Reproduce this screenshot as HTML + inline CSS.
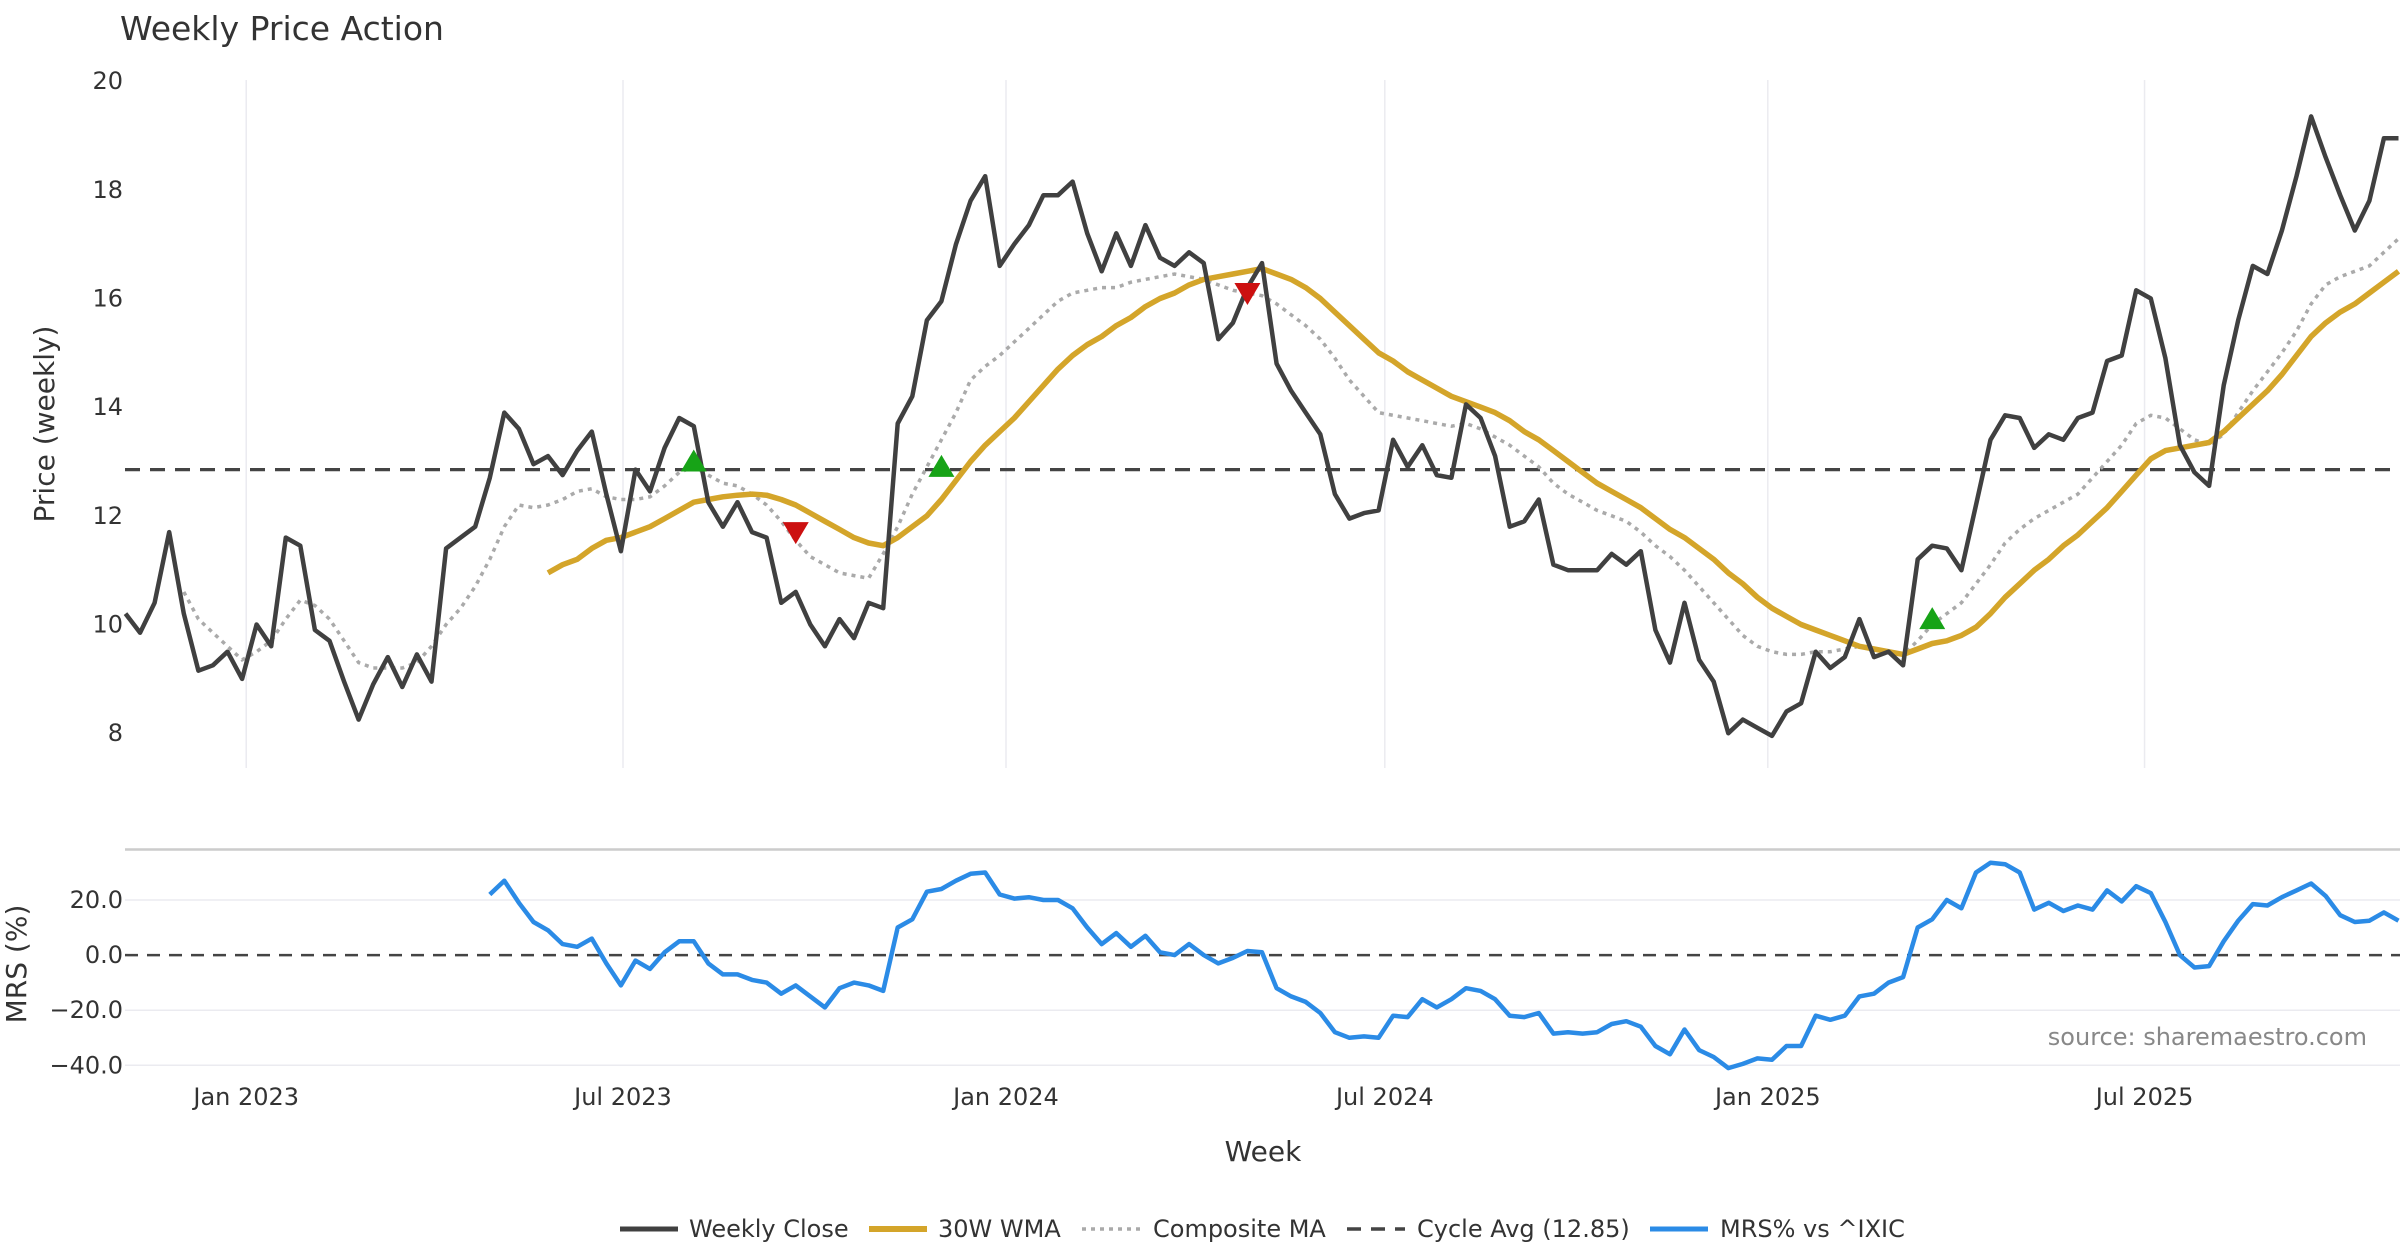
<!DOCTYPE html>
<html><head><meta charset="utf-8">
<style>
html,body{margin:0;padding:0;background:#fff;}
svg{display:block;font-family:"DejaVu Sans","Liberation Sans",sans-serif;}
</style></head>
<body>
<svg id="chart" width="2400" height="1260" viewBox="0 0 2400 1260" xmlns="http://www.w3.org/2000/svg">
<text x="120" y="40" font-size="33" fill="#333">Weekly Price Action</text>
<g id="grid"></g><g id="marks"></g><g id="labels"></g>
</svg>
<script>
const startDate = new Date(Date.UTC(2022,10,4));
const closeVals = [10.2,9.85,10.4,11.7,10.2,9.15,9.25,9.5,9.0,10.0,9.6,11.6,11.45,9.9,9.7,8.95,8.25,8.9,9.4,8.85,9.45,8.95,11.4,11.6,11.8,12.7,13.9,13.6,12.95,13.1,12.75,13.2,13.55,12.4,11.35,12.85,12.45,13.25,13.8,13.65,12.25,11.8,12.25,11.7,11.6,10.4,10.6,10.0,9.6,10.1,9.75,10.4,10.3,13.7,14.2,15.6,15.95,17.0,17.8,18.25,16.6,17.0,17.35,17.9,17.9,18.15,17.2,16.5,17.2,16.6,17.35,16.75,16.6,16.85,16.65,15.25,15.55,16.2,16.65,14.8,14.3,13.9,13.5,12.4,11.95,12.05,12.1,13.4,12.9,13.3,12.75,12.7,14.05,13.8,13.1,11.8,11.9,12.3,11.1,11.0,11.0,11.0,11.3,11.1,11.35,9.9,9.3,10.4,9.35,8.95,8.0,8.25,8.1,7.95,8.4,8.55,9.5,9.2,9.4,10.1,9.4,9.5,9.25,11.2,11.45,11.4,11.0,12.2,13.4,13.85,13.8,13.25,13.5,13.4,13.8,13.9,14.85,14.95,16.15,16.0,14.9,13.3,12.8,12.55,14.4,15.6,16.6,16.45,17.25,18.25,19.35,18.6,17.9,17.25,17.8,18.95,18.95];
const wmaStart = 29;
const wmaVals = [10.95,11.1,11.2,11.4,11.55,11.6,11.7,11.8,11.95,12.1,12.25,12.3,12.35,12.38,12.4,12.38,12.3,12.2,12.05,11.9,11.75,11.6,11.5,11.45,11.6,11.8,12.0,12.3,12.65,13.0,13.3,13.55,13.8,14.1,14.4,14.7,14.95,15.15,15.3,15.5,15.65,15.85,16.0,16.1,16.25,16.35,16.4,16.45,16.5,16.55,16.45,16.35,16.2,16.0,15.75,15.5,15.25,15.0,14.85,14.65,14.5,14.35,14.2,14.1,14.0,13.9,13.75,13.55,13.4,13.2,13.0,12.8,12.6,12.45,12.3,12.15,11.95,11.75,11.6,11.4,11.2,10.95,10.75,10.5,10.3,10.15,10.0,9.9,9.8,9.7,9.6,9.55,9.5,9.45,9.55,9.65,9.7,9.8,9.95,10.2,10.5,10.75,11.0,11.2,11.45,11.65,11.9,12.15,12.45,12.75,13.05,13.2,13.25,13.3,13.35,13.55,13.8,14.05,14.3,14.6,14.95,15.3,15.55,15.75,15.9,16.1,16.3,16.5];
const compStart = 4;
const compVals = [10.6,10.1,9.85,9.6,9.35,9.5,9.7,10.1,10.45,10.35,10.1,9.7,9.3,9.2,9.2,9.2,9.3,9.6,10.0,10.3,10.7,11.2,11.8,12.2,12.15,12.2,12.3,12.45,12.5,12.35,12.3,12.3,12.35,12.55,12.8,12.9,12.75,12.6,12.55,12.4,12.2,11.9,11.55,11.25,11.1,10.95,10.9,10.85,11.3,11.8,12.4,12.9,13.4,13.9,14.5,14.75,14.95,15.2,15.45,15.7,15.95,16.1,16.15,16.2,16.2,16.3,16.35,16.4,16.45,16.4,16.35,16.25,16.15,16.1,16.05,15.9,15.7,15.5,15.25,14.9,14.5,14.2,13.9,13.85,13.8,13.75,13.7,13.65,13.7,13.6,13.45,13.3,13.1,12.9,12.6,12.4,12.25,12.1,12.0,11.9,11.7,11.45,11.25,11.0,10.7,10.4,10.1,9.8,9.6,9.5,9.45,9.45,9.5,9.5,9.55,9.6,9.55,9.5,9.45,9.7,10.0,10.2,10.4,10.75,11.1,11.5,11.75,11.95,12.1,12.25,12.4,12.7,13.0,13.3,13.7,13.85,13.8,13.6,13.4,13.3,13.5,13.9,14.3,14.65,15.0,15.4,15.9,16.25,16.4,16.5,16.6,16.85,17.1];
const cycleAvg = 12.85;
const buyIdx = [39,56,124];
const buyPrice = [13.0,12.9,10.1];
const sellIdx = [46,77];
const sellPrice = [11.7,16.1];
const mrsStart = 25;
const mrsVals = [22,27,19,12,9,4,3,6,-3,-11,-2,-5,1,5,5,-3,-7,-7,-9,-10,-14,-11,-15,-19,-12,-10,-11,-13,10,13,23,24,27,29.5,30,22,20.5,21,20,20,17,10,4,8,3,7,1,0,4,0,-3,-1,1.5,1,-12,-15,-17,-21,-28,-30,-29.5,-30,-22,-22.5,-16,-19,-16,-12,-13,-16,-22,-22.5,-21,-28.5,-28,-28.5,-28,-25,-24,-26,-33,-36,-27,-34.5,-37,-41,-39.5,-37.5,-38,-33,-33,-22,-23.5,-22,-15,-14,-10,-8,10,13,20,17,30,33.5,33,30,16.5,19,16,18,16.5,23.5,19.5,25,22.5,12,0,-4.5,-4,5,12.5,18.5,18,21,23.5,26,21.5,14.5,12,12.5,15.5,12.5];
const priceTicks = [20,18,16,14,12,10,8];
const mrsTicks = [20,0,-20,-40];
const mrsTickLabels = ["20.0","0.0","\u221220.0","\u221240.0"];
const dateTicks = ["2023-01-01","2023-07-01","2024-01-01","2024-07-01","2025-01-01","2025-07-01"];
const dateTickLabels = ["Jan 2023","Jul 2023","Jan 2024","Jul 2024","Jan 2025","Jul 2025"];

const NS="http://www.w3.org/2000/svg";
const X0=125.5, STEP=(2398.5-125.5)/156;
function xIdx(i){return X0+i*STEP;}
function xDate(s){const d=new Date(s+"T00:00:00Z");return xIdx((d-startDate)/(7*86400000));}
function yP(v){return 81.1+(20-v)*(733.2-81.1)/12;}
function yM(v){return 900+(20-v)*(1065.3-900)/60;}
function mk(tag,attrs,parent,text){const e=document.createElementNS(NS,tag);for(const k in attrs)e.setAttribute(k,attrs[k]);if(text!==undefined)e.textContent=text;parent.appendChild(e);return e;}
const grid=document.getElementById('grid'),marks=document.getElementById('marks'),labels=document.getElementById('labels');

dateTicks.forEach((d,k)=>{
  const x=xDate(d);
  const g=mk('line',{x1:x,x2:x,y1:80,y2:768,stroke:'#ebebf0','stroke-width':1.5},grid);
  
  
  const t=mk('text',{x:x,y:1105,'font-size':24,fill:'#333','text-anchor':'middle'},labels,dateTickLabels[k]);
  
  
});
priceTicks.forEach(v=>{
  const t=mk('text',{x:123,y:yP(v)+8,'font-size':24,fill:'#333','text-anchor':'end'},labels,String(v));
  
  
});
const sep=mk('line',{x1:125,x2:2400,y1:849.5,y2:849.5,stroke:'#cccccc','stroke-width':2.5},grid);


mrsTicks.forEach((v,k)=>{
  if(v!==0){const l=mk('line',{x1:125,x2:2400,y1:yM(v),y2:yM(v),stroke:'#ebebf0','stroke-width':1.5},grid);
  
  }
  const t=mk('text',{x:123,y:yM(v)+8,'font-size':24,fill:'#333','text-anchor':'end'},labels,mrsTickLabels[k]);
  
  
});

function pathFrom(vals,start,yf){return vals.map((v,i)=>(i?'L':'M')+xIdx(start+i).toFixed(1)+','+yf(v).toFixed(1)).join('');}
let p;
p=mk('line',{x1:125,x2:2400,y1:yP(cycleAvg),y2:yP(cycleAvg),stroke:'#444','stroke-width':3.2,'stroke-dasharray':'15,10'},marks);


p=mk('path',{d:pathFrom(compVals,compStart,yP),fill:'none',stroke:'#aaaaaa','stroke-width':3.5,'stroke-dasharray':'4,5'},marks);


p=mk('path',{d:pathFrom(wmaVals,wmaStart,yP),fill:'none',stroke:'#d4a52a','stroke-width':5.5,'stroke-linejoin':'round'},marks);


p=mk('path',{d:pathFrom(closeVals,0,yP),fill:'none',stroke:'#404040','stroke-width':4.5,'stroke-linejoin':'round'},marks);


buyIdx.forEach((ix,k)=>{const x=xIdx(ix),y=yP(buyPrice[k]);
  const m=mk('path',{d:`M${x-13},${y+10}L${x+13},${y+10}L${x},${y-12}Z`,fill:'#17a317'},marks);
  
  });
sellIdx.forEach((ix,k)=>{const x=xIdx(ix),y=yP(sellPrice[k]);
  const m=mk('path',{d:`M${x-13},${y-10}L${x+13},${y-10}L${x},${y+12}Z`,fill:'#cc1010'},marks);
  
  });
p=mk('line',{x1:125,x2:2400,y1:yM(0),y2:yM(0),stroke:'#444','stroke-width':2.5,'stroke-dasharray':'13,9'},marks);


p=mk('path',{d:pathFrom(mrsVals,mrsStart,yM),fill:'none',stroke:'#2b8be6','stroke-width':4.5,'stroke-linejoin':'round'},marks);


</script>
<svg style="position:absolute;left:0;top:0" width="2400" height="1260" viewBox="0 0 2400 1260" xmlns="http://www.w3.org/2000/svg" font-family="DejaVu Sans, Liberation Sans, sans-serif">
<text transform="translate(54,424) rotate(-90)" font-size="28" fill="#333" text-anchor="middle">Price (weekly)</text>
<text transform="translate(26,964) rotate(-90)" font-size="28" fill="#333" text-anchor="middle">MRS (%)</text>
<text x="1263" y="1161" font-size="28" fill="#333" text-anchor="middle">Week</text>
<text x="2367" y="1045" font-size="24" fill="#888" text-anchor="end">source: sharemaestro.com</text>
<g font-size="24" fill="#333">
<g><line x1="620" x2="678" y1="1229" y2="1229" stroke="#404040" stroke-width="5"/><text x="689" y="1237">Weekly Close</text></g>
<g><line x1="869" x2="927" y1="1229" y2="1229" stroke="#d4a52a" stroke-width="6"/><text x="938" y="1237">30W WMA</text></g>
<g><line x1="1082" x2="1140" y1="1229" y2="1229" stroke="#aaa" stroke-width="3.5" stroke-dasharray="4,5"/><text x="1153" y="1237">Composite MA</text></g>
<g><line x1="1347" x2="1405" y1="1229" y2="1229" stroke="#444" stroke-width="3.5" stroke-dasharray="14,10"/><text x="1417" y="1237">Cycle Avg (12.85)</text></g>
<g><line x1="1650" x2="1708" y1="1229" y2="1229" stroke="#2b8be6" stroke-width="5"/><text x="1720" y="1237">MRS% vs ^IXIC</text></g>
</g>
</svg>
</body></html>
